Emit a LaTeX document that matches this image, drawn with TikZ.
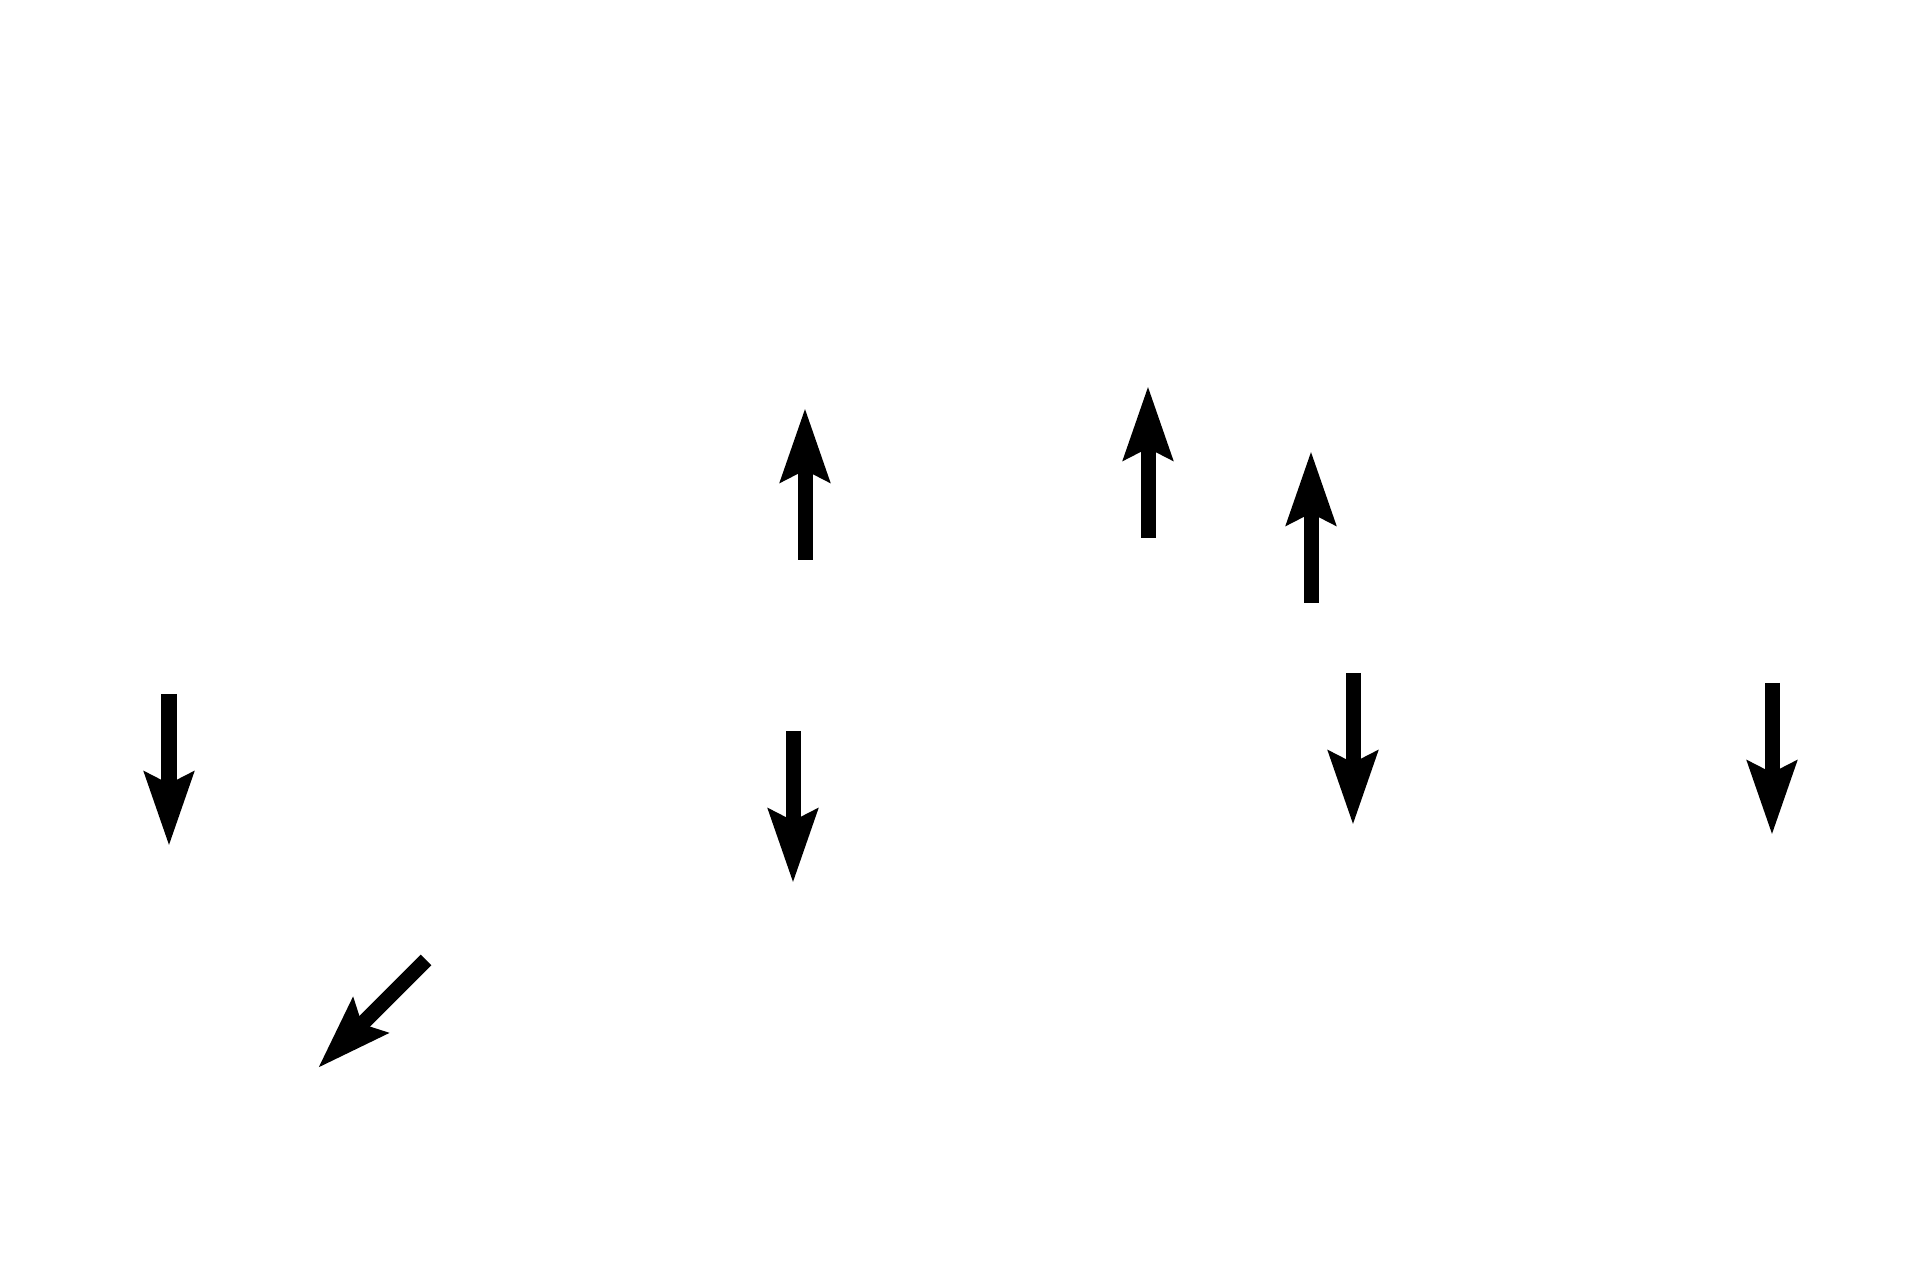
\documentclass[tikz,border=0pt]{standalone}
\usetikzlibrary{arrows.meta}

\begin{document}
\begin{tikzpicture}[x=0.01cm, y=-0.01cm,
    pointer/.style = {draw=black, line width=1.5mm, -{Stealth[length=7.3mm, width=4.8mm, inset=1.1mm]}}]
					\useasboundingbox (0,0) rectangle (1920,1280);
					\coordinate (A1) at (169,694);   \coordinate (A2) at (169,846);
					\coordinate (B1) at (805,560);   \coordinate (B2) at (805,408);
					\coordinate (C1) at (1148,538);  \coordinate (C2) at (1148,386);
					\coordinate (D1) at (1311,603);  \coordinate (D2) at (1311,451);
					\coordinate (E1) at (793,731);   \coordinate (E2) at (793,883);
					\coordinate (F1) at (1353,673);  \coordinate (F2) at (1353,825);
					\coordinate (G1) at (1772,683);  \coordinate (G2) at (1772,835);
					\coordinate (H1) at (426,960);   \coordinate (H2) at (318,1068);
					\draw [pointer] (A1) -- (A2);
					\draw [pointer] (B1) -- (B2);
					\draw [pointer] (C1) -- (C2);
					\draw [pointer] (D1) -- (D2);
					\draw [pointer] (E1) -- (E2);
					\draw [pointer] (F1) -- (F2);
					\draw [pointer] (G1) -- (G2);
					\draw [pointer] (H1) -- (H2);
				\end{tikzpicture}
\end{document}
